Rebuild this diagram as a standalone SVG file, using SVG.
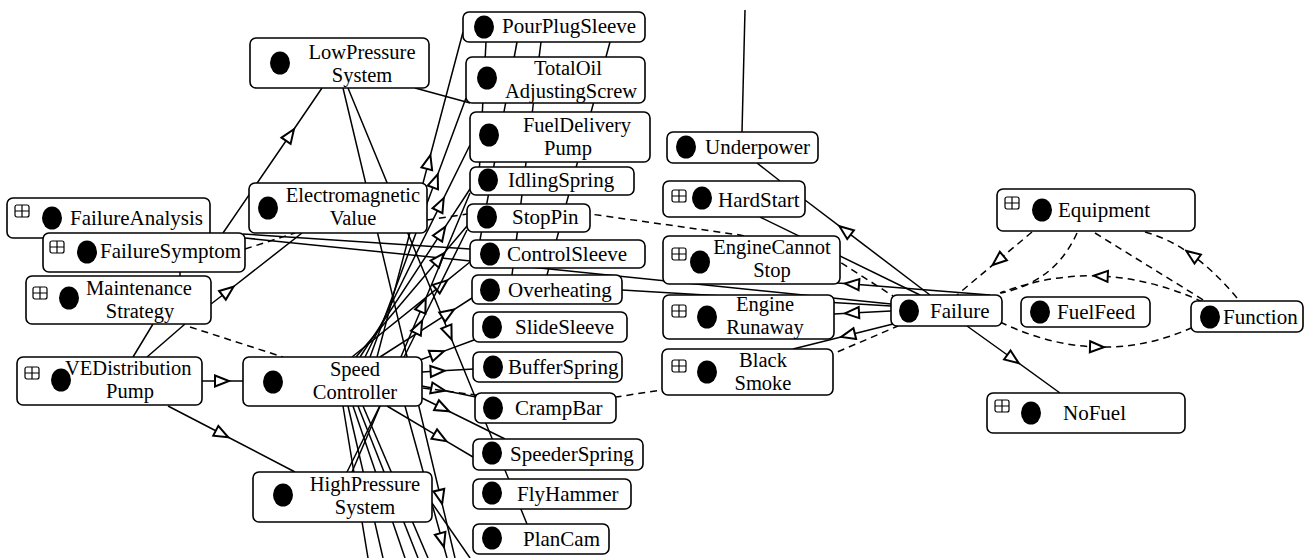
<svg xmlns="http://www.w3.org/2000/svg" width="1311" height="558" viewBox="0 0 1311 558">
<style>
.n rect.b{fill:#fff;stroke:#000;stroke-width:1.6}
.n ellipse{fill:#000}
text{font-family:"Liberation Serif",Tinos,"Times New Roman",Times,"Nimbus Roman","Nimbus Roman No9 L",FreeSerif,"DejaVu Serif","Noto Serif",serif;font-size:21px;fill:#000}
text.t2{font-size:20.5px}
.m{text-anchor:middle}
#edges path{fill:none;stroke:#000;stroke-width:1.5}
#edges .d{stroke-dasharray:7,5}
#edges .a{marker-mid:url(#tri)}
</style>
<defs>
<marker id="tri" viewBox="-2 -8 18 16" markerWidth="18" markerHeight="16" refX="7" refY="0" orient="auto" markerUnits="userSpaceOnUse">
<path d="M0,-5.5 L14,0 L0,5.5 Z" fill="#fff" stroke="#000" stroke-width="2"/>
</marker>
<g id="pl"><rect x="0" y="0" width="14" height="12" rx="2" fill="#fff" stroke="#000" stroke-width="1.2"/><path d="M7,0V12M0,6H14" stroke="#000" stroke-width="1.2"/></g>
</defs>
<rect width="1311" height="558" fill="#fff"/>
<g id="edges">
<path class="a" d="M223,233 L290,135 L322,88"/>
<path class="a" d="M211,304 L228,291 L302,233"/>
<path class="a" d="M202,381 L222,381 L243,381"/>
<path class="a" d="M168,406 L222,434 L295,472"/>
<path d="M153,324 L133,357"/>
<path d="M185,324 L147,357"/>
<path class="d" d="M180,270 L180,278"/>
<path class="d" d="M245,249 L295,233"/>
<path class="d" d="M190,327 L283,357"/>
<path d="M243,234 L470,249"/>
<path d="M245,238 L891,304"/>
<path d="M415,88 L470,103"/>
<path class="a" d="M348,88 L449,333 L527,524"/>
<path class="a" d="M343,88 L440.5,497 L455,558"/>
<path class="a" d="M377,357 L428.6,162 L463,32"/>
<path class="a" d="M370,357 L435.3,180.9 L466,98"/>
<path class="a" d="M365,357 L440.6,204.4 L470,145"/>
<path class="a" d="M360,357 L441.4,232.7 L470,189"/>
<path class="a" d="M356,357 L439.25,258.75 L467,226"/>
<path class="a" d="M352,357 L441.7,284.8 L470,262"/>
<path class="a" d="M380,357 L448.1,313.3 L472,298"/>
<path class="a" d="M420,360 L437.3,353.6 L474,340"/>
<path class="a" d="M422,372 L437.6,371.1 L474,369"/>
<path class="a" d="M422,386 L438.2,389.3 L476,397"/>
<path class="a" d="M422,398 L442.75,408.25 L505,439"/>
<path class="a" d="M387,406 L440.3,437.6 L473,457"/>
<path class="a" d="M405,406 L442,540 L447,558"/>
<path class="a" d="M347,472 L419,327 L467,230"/>
<path class="a" d="M352,472 L423,305 L470,193"/>
<path d="M343,406 L368,558"/>
<path d="M348,406 L383,558"/>
<path d="M353,406 L405,558"/>
<path d="M358,406 L418,558"/>
<path d="M363,406 L428,558"/>
<path d="M432,503 L470,558"/>
<path d="M610,42 L547,275"/>
<path d="M541,42 L512,275"/>
<path d="M517,42 L480,240"/>
<path d="M486,42 L478,195"/>
<path class="d" d="M427,220 L467,214 L590,214 L740,235 L840,262 L893,296"/>
<path class="d" d="M423,388 L476,395 L616,397 L662,390 L835,353 L898,326"/>
<path d="M622,290 L891,306"/>
<path d="M745,10 L742,132"/>
<path d="M757,163 L780,181"/>
<path d="M760,217 L920,295"/>
<path class="a" d="M930,295 L845,230.4 L805,200"/>
<path class="a" d="M990,295 L852,284.1 L837,283"/>
<path class="a" d="M891,311 L852,313 L834,314"/>
<path class="a" d="M893,324 L848,335.25 L793,349"/>
<path class="a" d="M967,326 L1013,359 L1060,393"/>
<path class="d a" d="M1032,232 L998,260.5 L957,295"/>
<path class="d" d="M1077,233 Q1055,282 1001,293"/>
<path class="d" d="M1095,233 L1205,301"/>
<path class="d a" d="M1237,298 Q1215,271.5 1192,255 Q1169,238.5 1145,232"/>
<path class="d a" d="M1203,302 Q1151.5,278.5 1100.75,276 Q1050,274 1000,293"/>
<path class="d a" d="M1000,322 Q1049,345.5 1097,347 Q1145,348.5 1191,328"/>
</g>
<g id="LowPressureSystem" class="n"><rect class="b" x="250" y="38" width="179" height="50" rx="6"/><ellipse cx="280" cy="63" rx="10" ry="11.5"/><text class="m t2" x="362" y="59">LowPressure</text><text class="m t2" x="362" y="82">System</text></g>
<g id="ElectromagneticValue" class="n"><rect class="b" x="249" y="183" width="178" height="50" rx="6"/><ellipse cx="268" cy="208" rx="10" ry="11.5"/><text class="m t2" x="353" y="202">Electromagnetic</text><text class="m t2" x="353" y="225">Value</text></g>
<g id="FailureAnalysis" class="n"><rect class="b" x="7" y="198" width="203" height="40" rx="6"/><use href="#pl" x="15" y="205"/><ellipse cx="52" cy="218" rx="10" ry="11.5"/><text x="70" y="225">FailureAnalysis</text></g>
<g id="FailureSymptom" class="n"><rect class="b" x="43" y="233" width="202" height="39" rx="6"/><use href="#pl" x="50" y="241"/><ellipse cx="87" cy="252" rx="10" ry="11.5"/><text x="100" y="258">FailureSymptom</text></g>
<g id="MaintenanceStrategy" class="n"><rect class="b" x="26" y="276" width="185" height="48" rx="6"/><use href="#pl" x="33" y="287"/><ellipse cx="69" cy="298" rx="10" ry="11.5"/><text class="m t2" x="139" y="295">Maintenance</text><text class="m t2" x="140" y="318">Strategy</text></g>
<g id="VEDistributionPump" class="n"><rect class="b" x="17" y="357" width="185" height="48" rx="6"/><use href="#pl" x="25" y="367"/><ellipse cx="61" cy="380" rx="10" ry="11.5"/><text class="t2" x="65" y="375">VEDistribution</text><text class="m t2" x="130" y="398">Pump</text></g>
<g id="SpeedController" class="n"><rect class="b" x="243" y="357" width="179" height="49" rx="6"/><ellipse cx="273" cy="382" rx="10" ry="11.5"/><text class="m t2" x="355" y="376">Speed</text><text class="m t2" x="355" y="399">Controller</text></g>
<g id="HighPressureSystem" class="n"><rect class="b" x="253" y="472" width="179" height="50" rx="6"/><ellipse cx="283" cy="495" rx="10" ry="11.5"/><text class="m t2" x="365" y="491">HighPressure</text><text class="m t2" x="365" y="514">System</text></g>
<g id="PourPlugSleeve" class="n"><rect class="b" x="463" y="12" width="182" height="30" rx="6"/><ellipse cx="484" cy="27" rx="10" ry="11.5"/><text x="502" y="33">PourPlugSleeve</text></g>
<g id="TotalOilAdjustingScrew" class="n"><rect class="b" x="466" y="57" width="179" height="46" rx="6"/><ellipse cx="487" cy="78" rx="10" ry="11.5"/><text class="m t2" x="568" y="75">TotalOil</text><text class="m t2" x="571" y="98">AdjustingScrew</text></g>
<g id="FuelDeliveryPump" class="n"><rect class="b" x="470" y="112" width="180" height="50" rx="6"/><ellipse cx="489" cy="135" rx="10" ry="11.5"/><text class="m t2" x="577" y="132">FuelDelivery</text><text class="m t2" x="568" y="155">Pump</text></g>
<g id="IdlingSpring" class="n"><rect class="b" x="470" y="167" width="164" height="28" rx="6"/><ellipse cx="488" cy="180" rx="10" ry="11.5"/><text x="508" y="187">IdlingSpring</text></g>
<g id="StopPin" class="n"><rect class="b" x="467" y="204" width="123" height="28" rx="6"/><ellipse cx="487" cy="217" rx="10" ry="11.5"/><text x="512" y="224">StopPin</text></g>
<g id="ControlSleeve" class="n"><rect class="b" x="470" y="240" width="175" height="28" rx="6"/><ellipse cx="490" cy="254" rx="10" ry="11.5"/><text x="507" y="261">ControlSleeve</text></g>
<g id="Overheating" class="n"><rect class="b" x="472" y="275" width="150" height="29" rx="6"/><ellipse cx="490" cy="290" rx="10" ry="11.5"/><text x="508" y="297">Overheating</text></g>
<g id="SlideSleeve" class="n"><rect class="b" x="473" y="312" width="154" height="30" rx="6"/><ellipse cx="492" cy="327" rx="10" ry="11.5"/><text x="515" y="334">SlideSleeve</text></g>
<g id="BufferSpring" class="n"><rect class="b" x="473" y="352" width="149" height="30" rx="6"/><ellipse cx="493" cy="367" rx="10" ry="11.5"/><text x="508" y="374">BufferSpring</text></g>
<g id="CrampBar" class="n"><rect class="b" x="475" y="393" width="141" height="30" rx="6"/><ellipse cx="493" cy="408" rx="10" ry="11.5"/><text x="515" y="415">CrampBar</text></g>
<g id="SpeederSpring" class="n"><rect class="b" x="473" y="439" width="170" height="31" rx="6"/><ellipse cx="492" cy="453" rx="10" ry="11.5"/><text x="510" y="461">SpeederSpring</text></g>
<g id="FlyHammer" class="n"><rect class="b" x="473" y="479" width="158" height="30" rx="6"/><ellipse cx="492" cy="493" rx="10" ry="11.5"/><text x="517" y="501">FlyHammer</text></g>
<g id="PlanCam" class="n"><rect class="b" x="473" y="524" width="136" height="30" rx="6"/><ellipse cx="492" cy="538" rx="10" ry="11.5"/><text x="523" y="546">PlanCam</text></g>
<g id="Underpower" class="n"><rect class="b" x="667" y="132" width="151" height="31" rx="6"/><ellipse cx="686" cy="147" rx="10" ry="11.5"/><text x="705" y="154">Underpower</text></g>
<g id="HardStart" class="n"><rect class="b" x="663" y="181" width="142" height="36" rx="6"/><use href="#pl" x="672" y="190"/><ellipse cx="702" cy="198" rx="10" ry="11.5"/><text x="718" y="207">HardStart</text></g>
<g id="EngineCannotStop" class="n"><rect class="b" x="663" y="236" width="177" height="48" rx="6"/><use href="#pl" x="672" y="248"/><ellipse cx="700" cy="262" rx="10" ry="11.5"/><text class="m t2" x="772" y="254">EngineCannot</text><text class="m t2" x="772" y="277">Stop</text></g>
<g id="EngineRunaway" class="n"><rect class="b" x="663" y="295" width="171" height="44" rx="6"/><use href="#pl" x="672" y="305"/><ellipse cx="707" cy="317" rx="10" ry="11.5"/><text class="m t2" x="765" y="311">Engine</text><text class="m t2" x="765" y="334">Runaway</text></g>
<g id="BlackSmoke" class="n"><rect class="b" x="662" y="349" width="171" height="46" rx="6"/><use href="#pl" x="672" y="360"/><ellipse cx="707" cy="372" rx="10" ry="11.5"/><text class="m t2" x="763" y="367">Black</text><text class="m t2" x="763" y="390">Smoke</text></g>
<g id="Failure" class="n"><rect class="b" x="891" y="295" width="111" height="31" rx="6"/><ellipse cx="909" cy="311" rx="10" ry="11.5"/><text x="930" y="318">Failure</text></g>
<g id="Equipment" class="n"><rect class="b" x="997" y="189" width="198" height="42" rx="6"/><use href="#pl" x="1005" y="197"/><ellipse cx="1042" cy="210" rx="10" ry="11.5"/><text x="1058" y="217">Equipment</text></g>
<g id="FuelFeed" class="n"><rect class="b" x="1021" y="297" width="129" height="30" rx="6"/><ellipse cx="1040" cy="312" rx="10" ry="11.5"/><text x="1057" y="319">FuelFeed</text></g>
<g id="Function" class="n"><rect class="b" x="1191" y="301" width="112" height="31" rx="6"/><ellipse cx="1210" cy="317" rx="10" ry="11.5"/><text x="1223" y="324">Function</text></g>
<g id="NoFuel" class="n"><rect class="b" x="987" y="393" width="198" height="40" rx="6"/><use href="#pl" x="995" y="400"/><ellipse cx="1031" cy="413" rx="10" ry="11.5"/><text x="1063" y="420">NoFuel</text></g>
</svg>
